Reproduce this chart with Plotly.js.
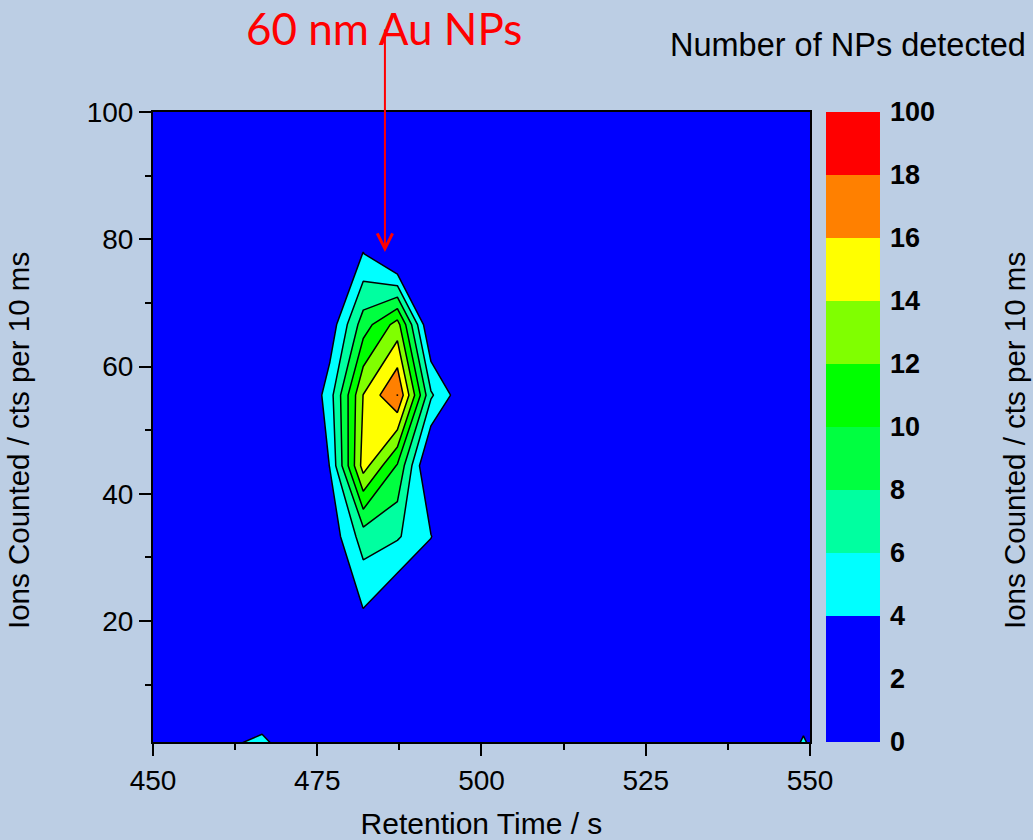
<!DOCTYPE html>
<html>
<head>
<meta charset="utf-8">
<script src="https://cdn.plot.ly/plotly-3.0.1.min.js"></script>
<style>html,body{margin:0;padding:0;background:rgb(188,206,228);}</style>
</head>
<body>
<div id="chart" style="width:1033px;height:840px;"></div>
<script>
// Retention time grid (s)
const retentionTime = [445.9, 451.1, 456.2, 461.4, 466.6, 471.7, 476.9, 482.0, 487.2, 492.3, 497.5,
                       502.6, 507.8, 512.9, 518.1, 523.2, 528.4, 533.5, 538.7, 543.8, 549.0, 554.1];
// Ions counted grid (cts per 10 ms)
const ionsCounted = [0, 11.1, 22.2, 33.3, 44.4, 55.5, 66.6, 77.7, 88.8, 99.9, 111.0];
// Number of NPs detected, one row per ionsCounted value
const npRow0  = [0, 0, 0, 3.95, 5.0, 2.55, 0, 0, 0, 0, 0, 0, 0, 0, 0, 0, 0, 0, 0, 0, 4.86, 0];
const npRow1  = [0, 0, 0, 0, 0, 0, 0, 0, 0, 0, 0, 0, 0, 0, 0, 0, 0, 0, 0, 0, 0, 0];
const npRow2  = [0, 0, 0, 0, 0, 0, 0, 4.08, 1.9, 0.5, 0, 0, 0, 0, 0, 0, 0, 0, 0, 0, 0, 0];
const npRow3  = [0, 0, 0, 0, 0, 0, 2.6, 6.95, 6.24, 4.1, 0, 0, 0, 0, 0, 0, 0, 0, 0, 0, 0, 0];
const npRow4  = [0, 0, 0, 0, 0, 0, 4.05, 14.85, 9.8, 1.0, 0, 0, 0, 0, 0, 0, 0, 0, 0, 0, 0, 0];
const npRow5  = [0, 0, 0, 0, 0, 0.38, 5.1, 14.05, 18.03, 6.3, 2.3, 0, 0, 0, 0, 0, 0, 0, 0, 0, 0, 0];
const npRow6  = [0, 0, 0, 0, 0, 0, 2.7, 9.0, 12.8, 1.5, 0, 0, 0, 0, 0, 0, 0, 0, 0, 0, 0, 0];
const npRow7  = [0, 0, 0, 0, 0, 0, 0, 4.1, 0.45, 0, 0, 0, 0, 0, 0, 0, 0, 0, 0, 0, 0, 0];
const npRow8  = [0, 0, 0, 0, 0, 0, 0, 0, 0, 0, 0, 0, 0, 0, 0, 0, 0, 0, 0, 0, 0, 0];
const npRow9  = [0, 0, 0, 0, 0, 0, 0, 0, 0, 0, 0, 0, 0, 0, 0, 0, 0, 0, 0, 0, 0, 0];
const npRow10 = [0, 0, 0, 0, 0, 0, 0, 0, 0, 0, 0, 0, 0, 0, 0, 0, 0, 0, 0, 0, 0, 0];
const npCounts = [npRow0, npRow1, npRow2, npRow3, npRow4, npRow5, npRow6, npRow7, npRow8, npRow9, npRow10];

// Colour key: band colours and labels
const bandColors = ['#0000FF', '#00FFFF', '#00FFA0', '#00FF40', '#00FF00', '#80FF00', '#FFFF00', '#FF8000', '#FF0000'];
const keyLabels = ['0', '2', '4', '6', '8', '10', '12', '14', '16', '18', '100'];
const keyBandIndex = [0, 0, 1, 2, 3, 4, 5, 6, 7, 8];

// Arrow target (peak of the 60 nm Au NP population)
const arrowTarget = {x: 485.3, y: 78};

const colorscale = bandColors.map((c, i) => [i / (bandColors.length - 1), c]);
const keyEdges = keyLabels.map((_, i) => i);

const contourTrace = {
  type: 'contour',
  x: retentionTime,
  y: ionsCounted,
  z: npCounts,
  xaxis: 'x', yaxis: 'y',
  autocontour: false,
  contours: {start: 4, end: 18, size: 2, coloring: 'fill', showlines: true},
  line: {color: 'black', width: 1.5, smoothing: 0},
  colorscale: colorscale,
  showscale: false,
  hoverinfo: 'x+y+z'
};

const keyTrace = {
  type: 'heatmap',
  x: [0, 1],
  y: keyEdges,
  z: keyBandIndex.map(v => [v]),
  zmin: 0, zmax: bandColors.length - 1,
  colorscale: colorscale,
  showscale: false,
  xaxis: 'x2', yaxis: 'y2',
  hoverinfo: 'skip'
};

const txtFont = 'Liberation Sans, Arial, sans-serif';

const layout = {
  width: 1033, height: 840,
  margin: {l: 153, r: 153, t: 112, b: 98, pad: 0},
  paper_bgcolor: 'rgb(188,206,228)',
  plot_bgcolor: 'rgb(188,206,228)',
  font: {family: txtFont, color: 'black'},
  showlegend: false,
  xaxis: {
    domain: [0, 0.9037], anchor: 'y',
    range: [450, 550], tick0: 450, dtick: 25,
    ticks: 'outside', ticklen: 12, tickwidth: 2, tickcolor: 'black',
    minor: {dtick: 12.5, tick0: 450, ticks: 'outside', ticklen: 6, tickwidth: 2, tickcolor: 'black'},
    showline: true, linewidth: 2, linecolor: 'black', mirror: true,
    showgrid: false, zeroline: false, automargin: false,
    tickfont: {size: 28, family: txtFont},
    title: {text: 'Retention Time / s', font: {size: 30, family: txtFont}, standoff: 18}
  },
  yaxis: {
    domain: [0, 1], anchor: 'x',
    range: [1, 100], tick0: 0, dtick: 20,
    ticks: 'outside', ticklen: 12, tickwidth: 2, tickcolor: 'black',
    minor: {dtick: 10, tick0: 0, ticks: 'outside', ticklen: 6, tickwidth: 2, tickcolor: 'black'},
    showline: true, linewidth: 2, linecolor: 'black', mirror: true,
    showgrid: false, zeroline: false, automargin: false,
    tickfont: {size: 28, family: txtFont}
  },
  xaxis2: {
    domain: [0.9257, 1], anchor: 'y2', range: [0, 1],
    visible: false, showgrid: false, zeroline: false
  },
  yaxis2: {
    domain: [0, 1], anchor: 'x2', side: 'right', range: [0, keyLabels.length - 1],
    tickmode: 'array', tickvals: keyEdges, ticktext: keyLabels,
    ticks: '', showline: false, showgrid: false, zeroline: false, automargin: false,
    ticklabelstandoff: 9,
    tickfont: {size: 27, family: txtFont, weight: 'bold', color: 'black'}
  },
  annotations: [
    {xref: 'x', yref: 'y', x: arrowTarget.x, y: arrowTarget.y, text: '', showarrow: true,
     ax: 0, ay: -224, arrowcolor: '#FF0000', arrowwidth: 2, arrowhead: 5, arrowsize: 1.5, standoff: 0},
    {xref: 'paper', yref: 'paper', x: 0.3177, y: 1.1333, xanchor: 'center', yanchor: 'middle',
     text: '60 nm Au NPs', showarrow: false, font: {family: 'Lato, sans-serif', size: 44, color: '#FF0000'}},
    {xref: 'paper', yref: 'paper', x: 0.9555, y: 1.1063, xanchor: 'center', yanchor: 'middle',
     text: 'Number of NPs detected', showarrow: false, font: {family: txtFont, size: 32.5, color: 'black'}},
    {xref: 'paper', yref: 'paper', x: -0.1843, y: 0.4778, xanchor: 'center', yanchor: 'middle',
     text: 'Ions Counted / cts per 10 ms', textangle: -90, showarrow: false, font: {family: txtFont, size: 29.5, color: 'black'}},
    {xref: 'paper', yref: 'paper', x: 1.1857, y: 0.4778, xanchor: 'center', yanchor: 'middle',
     text: 'Ions Counted / cts per 10 ms', textangle: -90, showarrow: false, font: {family: txtFont, size: 29.5, color: 'black'}}
  ]
};

Plotly.newPlot('chart', [contourTrace, keyTrace], layout, {displayModeBar: false, staticPlot: true});
</script>
</body>
</html>
